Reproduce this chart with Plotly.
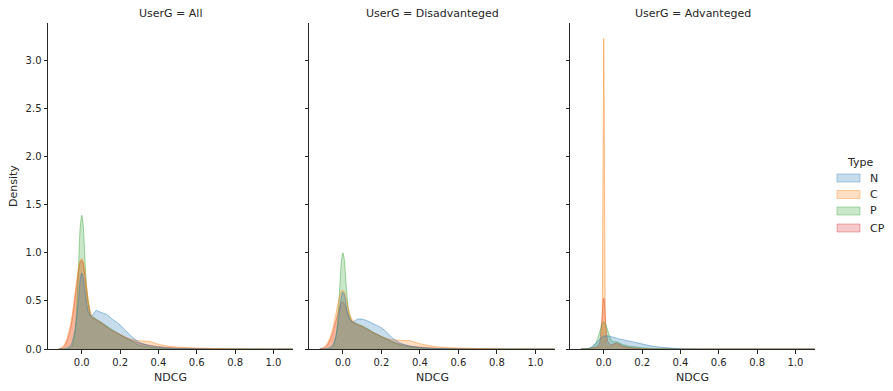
import plotly.graph_objects as go

# ---------------- data ----------------
PANELS = ["All", "Disadvanteged", "Advanteged"]
TYPES = ["N", "C", "P", "CP"]
COLORS = {"N": (31, 119, 180), "C": (255, 127, 14), "P": (44, 160, 44), "CP": (214, 39, 40)}

# shared NDCG grid for the "All" and "Disadvanteged" panels
GRID_AB = [-0.12, -0.1, -0.087, -0.075, -0.061, -0.05, -0.035, -0.025, -0.015, -0.008,
           0.0, 0.008, 0.015, 0.025, 0.035, 0.05, 0.075, 0.1, 0.13, 0.16,
           0.2, 0.23, 0.26, 0.3, 0.35, 0.4, 0.45, 0.5, 0.6, 0.7, 0.8, 1.0, 1.1]

ALL_N = [0, 0, 0.003, 0.01, 0.03, 0.07, 0.2, 0.35, 0.57, 0.72,
         0.79, 0.74, 0.62, 0.47, 0.38, 0.34, 0.4, 0.38, 0.36, 0.31,
         0.25, 0.19, 0.13, 0.07, 0.035, 0.02, 0.01, 0.005, 0.002, 0, 0, 0, 0]
ALL_C = [0, 0.02, 0.06, 0.12, 0.23, 0.35, 0.58, 0.73, 0.86, 0.92,
         0.94, 0.91, 0.83, 0.66, 0.5, 0.36, 0.31, 0.28, 0.23, 0.19,
         0.15, 0.12, 0.1, 0.085, 0.08, 0.05, 0.03, 0.02, 0.01, 0.005, 0.002, 0, 0]
ALL_P = [0, 0, 0, 0.002, 0.01, 0.03, 0.17, 0.5, 0.95, 1.27,
         1.39, 1.28, 1.0, 0.65, 0.48, 0.34, 0.31, 0.28, 0.24, 0.2,
         0.15, 0.11, 0.08, 0.04, 0.02, 0.008, 0.003, 0.001, 0, 0, 0, 0, 0]
ALL_CP = [0, 0.01, 0.04, 0.09, 0.19, 0.3, 0.52, 0.68, 0.83, 0.9,
          0.92, 0.88, 0.78, 0.6, 0.45, 0.33, 0.3, 0.27, 0.23, 0.19,
          0.15, 0.12, 0.09, 0.06, 0.04, 0.025, 0.015, 0.01, 0.005, 0.002, 0.001, 0, 0]

DIS_N = [0, 0, 0.002, 0.008, 0.025, 0.05, 0.15, 0.27, 0.43, 0.54,
         0.59, 0.56, 0.48, 0.37, 0.31, 0.28, 0.31, 0.31, 0.29, 0.26,
         0.22, 0.17, 0.11, 0.06, 0.03, 0.015, 0.008, 0.004, 0.001, 0, 0, 0, 0]
DIS_C = [0, 0.015, 0.04, 0.08, 0.15, 0.23, 0.38, 0.48, 0.56, 0.6,
         0.61, 0.59, 0.54, 0.45, 0.37, 0.3, 0.26, 0.24, 0.2, 0.17,
         0.13, 0.11, 0.095, 0.09, 0.085, 0.055, 0.035, 0.02, 0.01, 0.005, 0.002, 0, 0]
DIS_P = [0, 0, 0, 0.002, 0.01, 0.03, 0.13, 0.36, 0.68, 0.91,
         1.0, 0.92, 0.72, 0.47, 0.35, 0.28, 0.26, 0.24, 0.21, 0.17,
         0.13, 0.1, 0.07, 0.04, 0.02, 0.008, 0.003, 0.001, 0, 0, 0, 0, 0]
DIS_CP = [0, 0.008, 0.025, 0.06, 0.12, 0.19, 0.3, 0.38, 0.45, 0.48,
          0.49, 0.47, 0.43, 0.37, 0.32, 0.28, 0.25, 0.23, 0.2, 0.17,
          0.13, 0.1, 0.075, 0.05, 0.03, 0.02, 0.012, 0.008, 0.004, 0.002, 0.001, 0, 0]

# finer grid for the "Advanteged" panel (very sharp spikes)
GRID_C = [-0.12, -0.08, -0.06, -0.04, -0.03, -0.02, -0.012, -0.008, -0.005, -0.003,
          -0.0015, 0.0, 0.0015, 0.003, 0.005, 0.008, 0.012, 0.02, 0.03, 0.04,
          0.05, 0.06, 0.07, 0.08, 0.1, 0.13, 0.16, 0.2, 0.25, 0.3,
          0.35, 0.4, 0.5, 1.1]

ADV_N = [0, 0.005, 0.025, 0.065, 0.09, 0.11, 0.125, 0.13, 0.133, 0.134,
         0.135, 0.135, 0.136, 0.136, 0.137, 0.138, 0.138, 0.138, 0.135, 0.128,
         0.12, 0.113, 0.108, 0.104, 0.097, 0.085, 0.07, 0.05, 0.03, 0.018,
         0.008, 0.002, 0, 0]
ADV_C = [0, 0, 0.005, 0.01, 0.015, 0.02, 0.03, 0.25, 1.17, 2.23,
         2.94, 3.23, 2.94, 2.23, 1.17, 0.25, 0.03, 0.025, 0.025, 0.03,
         0.04, 0.05, 0.05, 0.04, 0.02, 0.01, 0.005, 0.002, 0, 0,
         0, 0, 0, 0]
ADV_P = [0, 0.003, 0.015, 0.06, 0.12, 0.2, 0.25, 0.265, 0.275, 0.278,
         0.28, 0.28, 0.28, 0.278, 0.275, 0.265, 0.25, 0.2, 0.13, 0.09,
         0.075, 0.075, 0.075, 0.065, 0.045, 0.03, 0.02, 0.012, 0.006, 0.002,
         0, 0, 0, 0]
ADV_CP = [0, 0.002, 0.008, 0.02, 0.03, 0.07, 0.22, 0.35, 0.46, 0.5,
          0.52, 0.53, 0.52, 0.5, 0.46, 0.35, 0.22, 0.08, 0.05, 0.045,
          0.05, 0.06, 0.06, 0.05, 0.03, 0.015, 0.008, 0.003, 0.001, 0,
          0, 0, 0, 0]

PANEL_DATA = [
    (GRID_AB, {"N": ALL_N, "C": ALL_C, "P": ALL_P, "CP": ALL_CP}),
    (GRID_AB, {"N": DIS_N, "C": DIS_C, "P": DIS_P, "CP": DIS_CP}),
    (GRID_C, {"N": ADV_N, "C": ADV_C, "P": ADV_P, "CP": ADV_CP}),
]

X_TICKS = [0.0, 0.2, 0.4, 0.6, 0.8, 1.0]
Y_TICKS = [0.0, 0.5, 1.0, 1.5, 2.0, 2.5, 3.0]

# ---------------- figure ----------------
W, H = 893, 391
FONT = "DejaVu Sans"
INK = "#262626"
TICK_SIZE = 10
LABEL_SIZE = 11


def rgba(t, a):
    return "rgba(%d,%d,%d,%.3f)" % (t[0], t[1], t[2], a)


x_domains = [(48 / W, 293 / W), (309 / W, 555 / W), (570 / W, 815 / W)]
y_domain = (1 - 349 / H, 1 - 23 / H)

fig = go.Figure()
for i, (grid, series) in enumerate(PANEL_DATA):
    suffix = "" if i == 0 else str(i + 1)
    for t in reversed(TYPES):
        fig.add_trace(go.Scatter(
            x=grid, y=series[t], mode="lines", fill="tozeroy",
            fillcolor=rgba(COLORS[t], 0.25),
            line=dict(color=rgba(COLORS[t], 0.45), width=1,
                      shape="spline" if i < 2 else "linear", smoothing=0.6),
            xaxis="x" + suffix, yaxis="y" + suffix,
            showlegend=False, hoverinfo="skip"))

layout = dict(
    width=W, height=H, margin=dict(l=0, r=0, t=0, b=0, autoexpand=False),
    paper_bgcolor="white", plot_bgcolor="white",
    font=dict(family=FONT, size=TICK_SIZE, color=INK),
    showlegend=False,
)
for i in range(3):
    suffix = "" if i == 0 else str(i + 1)
    layout["xaxis" + suffix] = dict(
        domain=list(x_domains[i]), anchor="y" + suffix, range=[-0.176, 1.102],
        tickvals=X_TICKS, ticktext=["%.1f" % v for v in X_TICKS],
        ticks="outside", ticklen=3.5, tickwidth=1, tickcolor=INK,
        showline=True, linecolor=INK, linewidth=1, automargin=False,
        showgrid=False, zeroline=False, tickfont=dict(size=TICK_SIZE, color=INK))
    layout["yaxis" + suffix] = dict(
        domain=list(y_domain), anchor="x" + suffix, range=[0, 3.39],
        tickvals=Y_TICKS, ticktext=["%.1f" % v for v in Y_TICKS],
        showticklabels=(i == 0), automargin=False,
        ticks="outside", ticklen=3.5, tickwidth=1, tickcolor=INK,
        showline=True, linecolor=INK, linewidth=1,
        showgrid=False, zeroline=False, tickfont=dict(size=TICK_SIZE, color=INK))
fig.update_layout(**layout)

ann = []
for i, name in enumerate(PANELS):
    cx = (x_domains[i][0] + x_domains[i][1]) / 2
    ann.append(dict(x=cx, y=1 - 13 / H, xref="paper", yref="paper",
                    text="UserG = " + name, showarrow=False,
                    font=dict(size=LABEL_SIZE, color=INK), xanchor="center", yanchor="middle"))
    ann.append(dict(x=cx, y=1 - 377 / H, xref="paper", yref="paper",
                    text="NDCG", showarrow=False,
                    font=dict(size=LABEL_SIZE, color=INK), xanchor="center", yanchor="middle"))
ann.append(dict(x=13 / W, y=(y_domain[0] + y_domain[1]) / 2, xref="paper", yref="paper",
                text="Density", showarrow=False, textangle=-90,
                font=dict(size=LABEL_SIZE, color=INK), xanchor="center", yanchor="middle"))

# legend (drawn by hand to mimic seaborn's patch legend)
ann.append(dict(x=860 / W, y=1 - 162 / H, xref="paper", yref="paper", text="Type",
                showarrow=False, font=dict(size=LABEL_SIZE, color=INK),
                xanchor="center", yanchor="middle"))
shapes = []
leg_y = [178, 194.5, 211, 228]
for t, py in zip(TYPES, leg_y):
    shapes.append(dict(type="rect", xref="paper", yref="paper",
                       x0=837 / W, x1=860 / W, y0=1 - (py + 4) / H, y1=1 - (py - 4) / H,
                       fillcolor=rgba(COLORS[t], 0.25),
                       line=dict(color=rgba(COLORS[t], 0.35), width=1)))
    ann.append(dict(x=868 / W, y=1 - py / H, xref="paper", yref="paper", text=t,
                    showarrow=False, font=dict(size=LABEL_SIZE, color=INK),
                    xanchor="left", yanchor="middle"))
fig.update_layout(annotations=ann, shapes=shapes)

fig.write_html("out.html", config={"displayModeBar": False},
               post_script="document.body.style.margin='0';document.body.style.overflow='hidden';")
